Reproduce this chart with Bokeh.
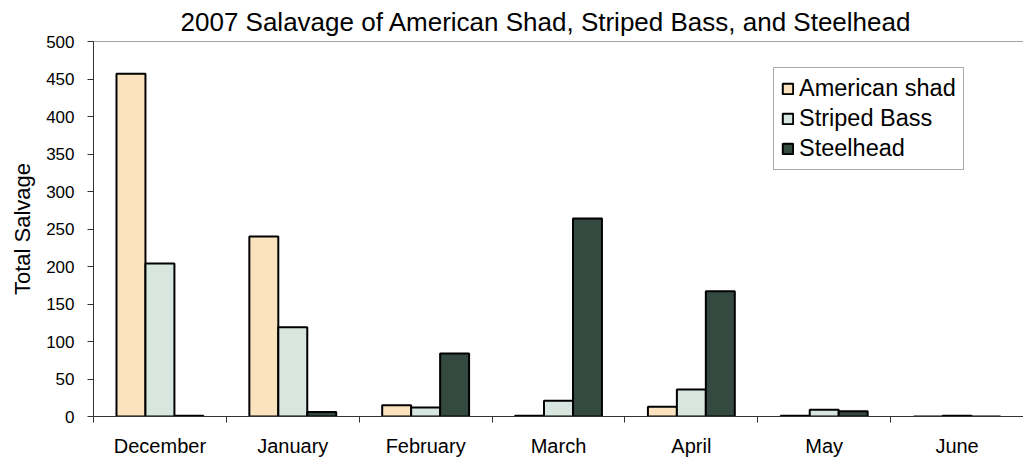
from bokeh.plotting import figure
from bokeh.models import (Range1d, LinearAxis, FixedTicker, ColumnDataSource, Legend,
                          LegendItem, Span, Title)
from bokeh.embed import file_html
from bokeh.resources import INLINE

months = ["December", "January", "February", "March", "April", "May", "June"]
american_shad = [457, 240, 15, 1, 13, 1, 0]
striped_bass = [204, 119, 12, 21, 36, 9, 1]
steelhead = [1, 6, 84, 264, 167, 7, 0]
y_ticks = [0, 50, 100, 150, 200, 250, 300, 350, 400, 450, 500]

FONT = "Liberation Sans"

centers = [i + 0.5 for i in range(len(months))]
bounds = list(range(len(months) + 1))
w = 0.218

p = figure(width=1023, height=460, x_range=Range1d(0, len(months)), y_range=Range1d(0, 500),
           output_backend="svg", toolbar_location=None, x_axis_location=None,
           min_border_left=93, min_border_right=0, min_border_top=41, min_border_bottom=44)
p.outline_line_color = None
p.grid.visible = False
p.background_fill_color = "white"

cols = [(american_shad, "#FBE3C0", "American shad", -w),
        (striped_bass, "#D8E6E0", "Striped Bass", 0.0),
        (steelhead, "#34493F", "Steelhead", w)]
items = []
for vals, color, label, off in cols:
    src = ColumnDataSource(dict(x=[c + off for c in centers], top=vals))
    r = p.vbar(x="x", top="top", width=w, source=src,
               fill_color=color, line_color="black", line_width=2)
    items.append(LegendItem(label=label, renderers=[r]))

# top frame line
p.add_layout(Span(location=500, dimension="width", line_color="#444444", line_width=1))

# y axis
p.yaxis.ticker = FixedTicker(ticks=y_ticks)
p.yaxis.minor_tick_line_color = None
p.yaxis.major_tick_in = 0
p.yaxis.major_tick_out = 6
p.yaxis.axis_line_color = "#333333"
p.yaxis.major_tick_line_color = "#333333"
p.yaxis.major_label_text_font = FONT
p.yaxis.major_label_text_font_size = "17px"
p.yaxis.major_label_text_color = "black"
p.yaxis.major_label_standoff = 13
p.yaxis.axis_label = "Total Salvage"
p.yaxis.axis_label_text_font = FONT
p.yaxis.axis_label_text_font_size = "22px"
p.yaxis.axis_label_text_font_style = "normal"
p.yaxis.axis_label_text_color = "black"
p.yaxis.axis_label_standoff = 8

# x axis: labels at category centres, ticks at category boundaries
x_axis = LinearAxis(ticker=FixedTicker(ticks=centers, minor_ticks=bounds),
                    major_label_overrides={c: m for c, m in zip(centers, months)},
                    axis_line_color="#333333", major_tick_line_color=None,
                    major_tick_in=0, major_tick_out=0,
                    minor_tick_line_color="#333333", minor_tick_in=0, minor_tick_out=6,
                    major_label_text_font=FONT, major_label_text_font_size="20px",
                    major_label_text_color="black", major_label_standoff=12)
p.add_layout(x_axis, "below")

legend = Legend(items=items, location=(680, 246), label_text_font=FONT,
                label_text_font_size="23.5px", label_text_color="black",
                glyph_width=13, glyph_height=13,
                label_standoff=5, spacing=3, padding=7, margin=0,
                border_line_color="#555555", border_line_width=1,
                label_height=26)
p.add_layout(legend, "center")

p.title = Title(text="2007 Salavage of American Shad, Striped Bass, and Steelhead",
                text_font=FONT, text_font_size="26px", text_font_style="normal",
                text_color="black", align="left", offset=87, standoff=9)

open("out.html", "w").write(file_html(p, INLINE))
